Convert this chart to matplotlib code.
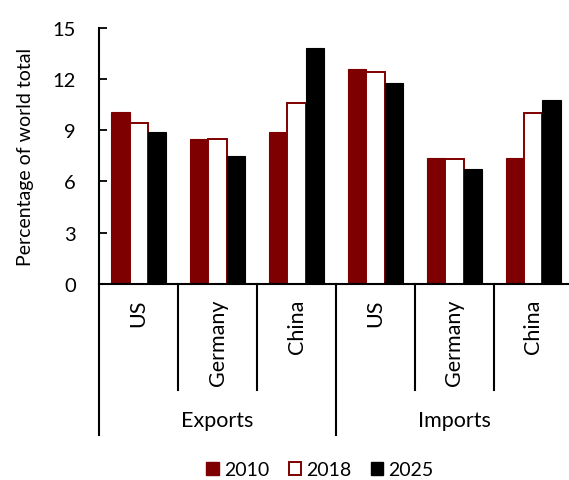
import matplotlib
matplotlib.use("Agg")
import matplotlib.pyplot as plt
from matplotlib.patches import Patch
from matplotlib.transforms import blended_transform_factory
import numpy as np

plt.rcParams['font.family'] = ['Lato', 'DejaVu Sans']

flows = ["Exports", "Imports"]
countries = ["US", "Germany", "China"]
years = ["2010", "2018", "2025"]
v2010 = [10.1, 8.5, 8.9, 12.6, 7.4, 7.4]
v2018 = [9.4, 8.5, 10.6, 12.4, 7.3, 10.0]
v2025 = [8.9, 7.5, 13.8, 11.8, 6.7, 10.8]
y_ticks = [0, 3, 6, 9, 12, 15]
y_label = "Percentage of world total"

maroon = "#7F0000"
W, H = 569, 481
fig = plt.figure(figsize=(W / 100, H / 100), dpi=100)
ax = fig.add_axes([99.3 / W, (H - 284.7) / H, (W - 99.3) / W, (284.7 - 29) / H])

n = len(v2010)
centers = np.arange(n) + 0.5
bw = 0.234
ax.bar(centers - bw, v2010, bw, color=maroon, edgecolor=maroon, linewidth=0.8, zorder=2)
ax.bar(centers, v2018, bw, color="white", edgecolor=maroon, linewidth=1.4, zorder=2)
ax.bar(centers + bw, v2025, bw, color="black", edgecolor="black", linewidth=0.8, zorder=2)

ax.set_xlim(0, (W - 99.3) / 78.9)
ax.set_ylim(0, 15)
ax.set_yticks(y_ticks)
ax.set_yticklabels([str(t) for t in y_ticks], fontsize=14.5)
ax.tick_params(axis='y', direction='in', length=6, width=1.3, pad=17)
ax.set_xticks([])
for s in ["top", "right"]:
    ax.spines[s].set_visible(False)
for s in ["left", "bottom"]:
    ax.spines[s].set_linewidth(1.5)
ax.set_ylabel(y_label, fontsize=14, labelpad=13)

tr = blended_transform_factory(ax.transData, fig.transFigure)
y0 = (H - 284.7) / H
y_short = (H - 390.7) / H
y_long = (H - 436) / H
for i in range(n + 1):
    ylow = y_long if i % 3 == 0 else y_short
    ax.plot([i, i], [y0, ylow], transform=tr, color="black", lw=1.5, clip_on=False)

labels = countries * len(flows)
for i, lab in enumerate(labels):
    ax.text(centers[i], (H - 300) / H, lab, transform=tr, rotation=90,
            ha='center', va='top', fontsize=15.5)
for j, f in enumerate(flows):
    ax.text(3 * j + 1.5, (H - 421) / H, f, transform=tr, ha='center', va='center', fontsize=15.5)

handles = [Patch(facecolor=maroon, edgecolor=maroon),
           Patch(facecolor="white", edgecolor=maroon, linewidth=1.4),
           Patch(facecolor="black", edgecolor="black")]
fig.legend(handles, years, loc='center', bbox_to_anchor=(320 / W, (H - 471) / H), ncol=3,
           frameon=False, fontsize=14, handlelength=0.65, handleheight=0.65,
           handletextpad=0.25, columnspacing=1.0, borderpad=0)

fig.savefig("out.png", dpi=100)
